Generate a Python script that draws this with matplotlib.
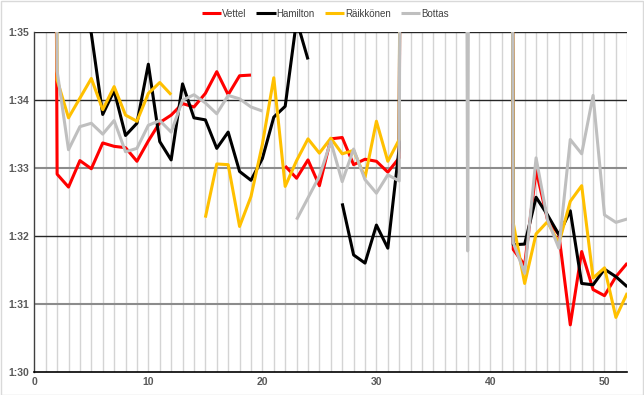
import numpy as np
import matplotlib
matplotlib.use("Agg")
import matplotlib.pyplot as plt
from matplotlib.patches import Rectangle
from matplotlib.ticker import FuncFormatter

nan = np.nan
laps = list(range(1, 53))
sc = 150.0  # off-chart (slow) laps

vettel = [130, 92.91, 92.72, 93.11, 92.99, 93.37, 93.32, 93.30, 93.10, 93.40,
          93.67, 93.78, 93.95, 93.90, 94.10, 94.42, 94.08, 94.36, 94.37, nan,
          nan, 93.03, 92.85, 93.12, 92.74, 93.43, 93.45, 93.05, 93.13, 93.10,
          92.94, 93.15, sc, sc, sc, sc, sc, sc, sc, sc,
          sc, 91.80, 91.57, 92.97, 92.24, 92.02, 90.69, 91.77, 91.21, 91.12,
          91.40, 91.60]

hamilton = [130, 97.0, 96.2, 95.6, 94.98, 93.79, 94.14, 93.48, 93.66, 94.53,
            93.39, 93.12, 94.24, 93.74, 93.71, 93.29, 93.53, 92.95, 92.82, 93.14,
            93.75, 93.91, 95.18, 94.60, nan, nan, 92.48, 91.72, 91.60, 92.16,
            91.82, 93.30, sc, sc, sc, sc, sc, sc, sc, sc,
            sc, 91.87, 91.88, 92.57, 92.31, 92.02, 92.37, 91.30, 91.28, 91.51,
            91.40, 91.25]

raikkonen = [130, 94.30, 93.74, 94.03, 94.32, 93.86, 94.20, 93.78, 93.69, 94.10,
             94.26, 94.08, nan, nan, 92.27, 93.06, 93.05, 92.14, 92.58, 93.35,
             94.33, 92.73, 93.11, 93.43, 93.22, 93.44, 93.21, 93.26, 92.86, 93.69,
             93.10, 93.42, sc, sc, sc, sc, sc, sc, sc, sc,
             sc, 92.19, 91.30, 92.03, 92.21, 91.89, 92.51, 92.74, 91.38, 91.53,
             90.80, 91.16]

bottas = [130, 94.43, 93.27, 93.61, 93.66, 93.50, 93.70, 93.24, 93.29, 93.63,
          93.70, 93.53, 94.00, 94.08, 93.96, 93.80, 94.07, 94.02, 93.90, 93.84,
          nan, nan, 92.24, 92.56, 92.88, 93.39, 92.80, 93.28, 92.83, 92.63,
          92.90, 92.81, sc, sc, sc, sc, sc, 91.78, sc, sc,
          sc, 91.90, 91.45, 93.15, 92.24, 91.82, 93.42, 93.21, 94.07, 92.31,
          92.20, 92.25]

names = ["Vettel", "Hamilton", "Räikkönen", "Bottas"]
colors = ["#ff0000", "#000000", "#ffc000", "#bfbfbf"]
series = [vettel, hamilton, raikkonen, bottas]

fig = plt.figure(figsize=(6.44, 3.95), dpi=100)
ax = fig.add_axes([34.3 / 644, 1 - 371.7 / 395, (627.3 - 34.3) / 644, (371.7 - 32.3) / 395])

# vertical light grid at every lap
for x in laps:
    ax.axvline(x, color="#d4d4d4", lw=1.0, zorder=0)
# horizontal grid
for v, c, w in [(91, "#8c8c8c", 1.5), (92, "#262626", 1.0), (93, "#8c8c8c", 1.5),
                (94, "#262626", 1.0), (95, "#262626", 1.0)]:
    ax.axhline(v, color=c, lw=w, zorder=0.5)

for name, col, vals in zip(names, colors, series):
    ax.plot(laps, vals, color=col, lw=2.2, label=name, solid_joinstyle="round",
            solid_capstyle="butt", zorder=2)

ax.set_xlim(0, 52)
ax.set_ylim(90, 95)
ax.set_xticks([0, 10, 20, 30, 40, 50])
ax.set_yticks([90, 91, 92, 93, 94, 95])
ax.yaxis.set_major_formatter(FuncFormatter(lambda v, p: "%d:%02d" % (int(v) // 60, int(v) % 60)))
ax.tick_params(length=0, labelsize=7.5, labelcolor="#595959", pad=4)
for lab in ax.get_xticklabels() + ax.get_yticklabels():
    lab.set_fontweight("bold")
    lab.set_family("Liberation Sans")
for s in ["top", "right"]:
    ax.spines[s].set_visible(False)
ax.spines["left"].set_color("#404040")
ax.spines["left"].set_linewidth(1.0)
ax.spines["bottom"].set_color("#000000")
ax.spines["bottom"].set_linewidth(1.2)

leg = fig.legend(loc="upper center", bbox_to_anchor=(0.505, 1.0), ncol=4, frameon=False,
                 handlelength=2.0, handletextpad=0.1, columnspacing=1.0,
                 prop={"family": "Liberation Sans", "size": 7})
for t in leg.get_texts():
    t.set_color("#404040")

fig.patches.append(Rectangle((0.001, 0.001), 0.997, 0.997, transform=fig.transFigure,
                             fill=False, edgecolor="#d9d9d9", lw=1.0))

fig.savefig("out.png", dpi=100)
